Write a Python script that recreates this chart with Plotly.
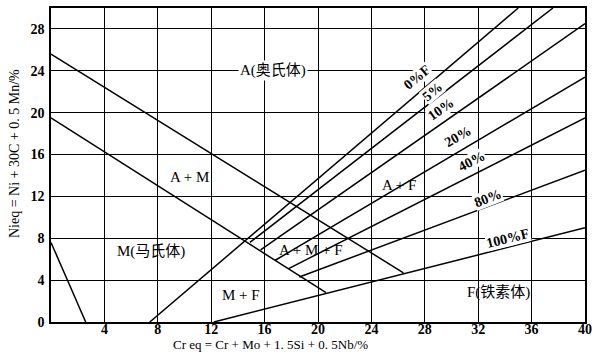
import plotly.graph_objects as go

# Schaeffler diagram, boundary lines (Cr eq, Ni eq)
upper_x = [0, 26.4]          # A / A+M
upper_y = [25.6, 4.7]
lower_x = [0, 20.6]          # M / A+M
lower_y = [19.5, 2.8]
corner_x = [0, 2.6]
corner_y = [7.6, 0]
ferrite_lines = {
    "0%F": ([7.4, 35.0], [0, 30]),
    "5%": ([14.9, 37.6], [7.6, 30]),
    "10%": ([15.7, 40], [6.9, 28.5]),
    "20%": ([16.8, 40], [5.9, 23.4]),
    "40%": ([17.8, 40], [5.1, 19.5]),
    "80%": ([18.6, 40], [4.3, 14.5]),
    "100%F": ([12.2, 40], [0, 9.0]),
}

region_labels = ["A(奥氏体)", "A + M", "M(马氏体)", "M + F", "A + M + F", "A + F", "F(铁素体)"]
region_x = [16.6, 10.4, 7.5, 14.2, 19.5, 26.1, 33.5]
region_y = [24.0, 13.9, 6.7, 2.6, 6.9, 13.1, 2.8]

pct_labels = ["0%F", "5%", "10%", "20%", "40%", "80%", "100%F"]
pct_x = [27.4, 28.6, 29.2, 30.5, 31.5, 32.7, 34.2]
pct_y = [23.4, 22.0, 20.3, 17.7, 15.3, 11.8, 8.0]
pct_angle = [-40, -40, -35, -30, -27, -21, -14]

x_ticks = list(range(4, 41, 4))
y_ticks = list(range(0, 29, 4))

SERIF = "Liberation Serif, Noto Sans CJK SC, serif"
line_style = dict(color="black", width=1.5)

fig = go.Figure()
for xs, ys in [(upper_x, upper_y), (lower_x, lower_y), (corner_x, corner_y)]:
    fig.add_trace(go.Scatter(x=xs, y=ys, mode="lines", line=line_style, hoverinfo="skip"))
for name, (xs, ys) in ferrite_lines.items():
    fig.add_trace(go.Scatter(x=xs, y=ys, mode="lines", line=line_style, name=name))

for txt, x, y in zip(region_labels, region_x, region_y):
    fig.add_annotation(x=x, y=y, text=txt, showarrow=False,
                       font=dict(family=SERIF, size=15, color="black"),
                       bgcolor="white" if txt.startswith("A(") else None, borderpad=1)
for txt, x, y, a in zip(pct_labels, pct_x, pct_y, pct_angle):
    fig.add_annotation(x=x, y=y, text=txt, showarrow=False, textangle=a,
                       font=dict(family=SERIF, size=14, color="black", weight="bold"),
                       bgcolor="white", borderpad=0)

fig.add_annotation(xref="paper", yref="paper", x=(270 - 51) / 534, y=-0.071,
                   yanchor="middle", text="Cr eq = Cr + Mo + 1. 5Si + 0. 5Nb/%",
                   showarrow=False, font=dict(family=SERIF, size=13, color="black"))
fig.add_annotation(xref="paper", yref="paper", x=(14 - 51) / 534, y=0.535,
                   xanchor="center", yanchor="middle", textangle=-90,
                   text="Nieq = Ni + 30C + 0. 5 Mn/%", showarrow=False,
                   font=dict(family=SERIF, size=14, color="black"))

axis_common = dict(showgrid=True, gridcolor="black", gridwidth=1.2, zeroline=False,
                   showline=True, linecolor="black", linewidth=1.6, mirror=True,
                   ticks="", ticklabeloverflow="allow", automargin=False,
                   tickfont=dict(family=SERIF, size=14, color="black", weight="bold"))
fig.update_xaxes(range=[0, 40], tickvals=x_ticks, ticklabelstandoff=-7, **axis_common)
fig.update_yaxes(range=[0, 30], tickvals=y_ticks, ticklabelstandoff=2, **axis_common)

fig.update_layout(width=592, height=363, showlegend=False,
                  margin=dict(l=51, r=7, t=8, b=41),
                  plot_bgcolor="white", paper_bgcolor="white")
# drop the browser's default 8px body margin so the figure fills the window
fig.write_html("out.html", config={"displayModeBar": False},
               post_script="document.body.style.margin = '0';")
